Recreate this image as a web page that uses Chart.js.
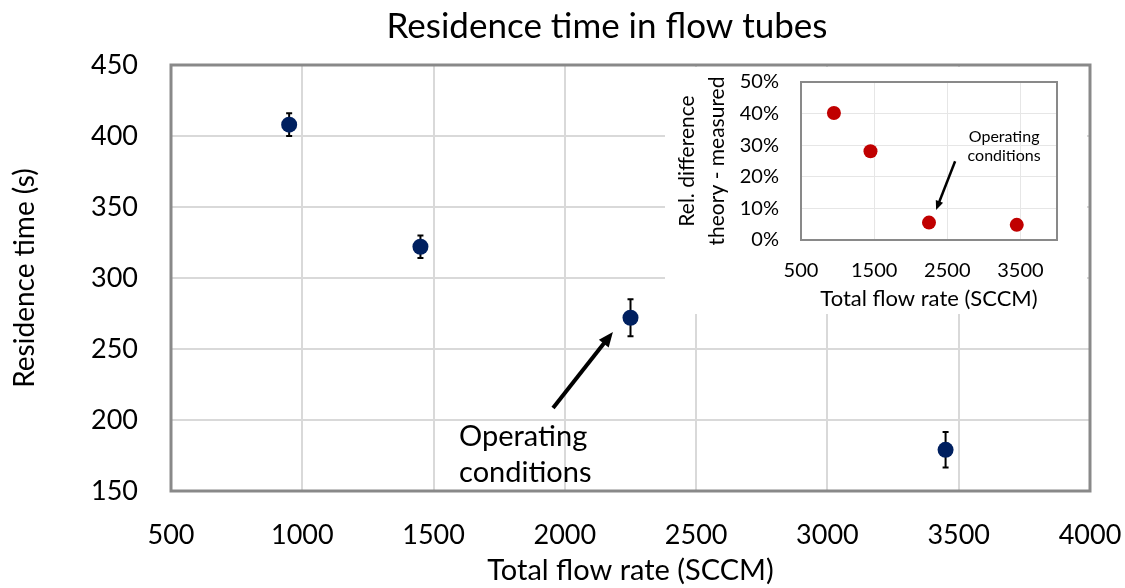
<!DOCTYPE html>
<html>
<head>
<meta charset="utf-8">
<script src="https://cdn.jsdelivr.net/npm/chart.js@4"></script>
<style>
  body { margin: 0; background: #fff; }
  #wrap { position: relative; width: 1125px; height: 588px; }
  #mainChart { position: absolute; left: 0; top: 0; }
  #insetChart { position: absolute; left: 665px; top: 67px; background: #fff; }
</style>
</head>
<body>
<div id="wrap">
  <canvas id="mainChart" width="1125" height="588"></canvas>
  <canvas id="insetChart" width="422" height="247"></canvas>
</div>
<script>
// measured points
const flowRates = [950, 1450, 2250, 3450];            // SCCM
const residenceTimes = [408, 322, 272, 179];          // s
const residenceErrors = [8, 8, 13, 12.5];             // s, +/- 
const relDifference = [40.2, 28.1, 5.5, 4.8];         // %, theory vs measured

// axis ticks
const mainXTicks = [500, 1000, 1500, 2000, 2500, 3000, 3500, 4000];
const mainYTicks = [150, 200, 250, 300, 350, 400, 450];
const insetXTicks = [500, 1500, 2500, 3500];
const insetYTicks = [0, 10, 20, 30, 40, 50];

const FONT = 'Lato';
Chart.defaults.font.family = FONT;
Chart.defaults.color = '#000';

// arrow + label for the operating point, in data units
const mainNote = { lines: ['Operating', 'conditions'], x: 1597, y: [188, 162.7], align: 'left', size: 29,
                   from: [1955, 208.5], to: [2183, 262] };
const insetNote = { lines: ['Operating', 'conditions'], x: 3277, y: [32.8, 26.5], align: 'center', size: 16,
                    from: [2607, 24.9], to: [2347, 9.5] };

function drawArrow(ctx, x1, y1, x2, y2, width, head) {
  const ang = Math.atan2(y2 - y1, x2 - x1);
  ctx.save();
  ctx.strokeStyle = '#000';
  ctx.fillStyle = '#000';
  ctx.lineWidth = width;
  ctx.beginPath();
  ctx.moveTo(x1, y1);
  ctx.lineTo(x2 - Math.cos(ang) * head * 0.8, y2 - Math.sin(ang) * head * 0.8);
  ctx.stroke();
  ctx.beginPath();
  ctx.moveTo(x2, y2);
  ctx.lineTo(x2 - head * Math.cos(ang - 0.4), y2 - head * Math.sin(ang - 0.4));
  ctx.lineTo(x2 - head * Math.cos(ang + 0.4), y2 - head * Math.sin(ang + 0.4));
  ctx.closePath();
  ctx.fill();
  ctx.restore();
}

function notePlugin(note, arrowWidth, head) {
  return {
    id: 'note',
    afterDatasetsDraw(chart) {
      const { ctx, scales: { x, y } } = chart;
      ctx.save();
      ctx.font = note.size + 'px ' + FONT;
      ctx.fillStyle = '#000';
      ctx.textAlign = note.align;
      ctx.textBaseline = 'middle';
      note.lines.forEach((t, i) => ctx.fillText(t, x.getPixelForValue(note.x), y.getPixelForValue(note.y[i])));
      ctx.restore();
      drawArrow(ctx, x.getPixelForValue(note.from[0]), y.getPixelForValue(note.from[1]),
                x.getPixelForValue(note.to[0]), y.getPixelForValue(note.to[1]), arrowWidth, head);
    }
  };
}

function framePlugin(color, width) {
  return {
    id: 'frame',
    afterDatasetsDraw(chart) {
      const { ctx, chartArea: a } = chart;
      ctx.save();
      ctx.strokeStyle = color;
      ctx.lineWidth = width;
      ctx.strokeRect(a.left, a.top, a.right - a.left, a.bottom - a.top);
      ctx.restore();
    }
  };
}

const errorBars = {
  id: 'errorBars',
  beforeDatasetsDraw(chart) {
    const { ctx, scales: { x, y } } = chart;
    ctx.save();
    ctx.strokeStyle = '#000';
    ctx.lineWidth = 2;
    flowRates.forEach((f, i) => {
      const px = x.getPixelForValue(f);
      const top = y.getPixelForValue(residenceTimes[i] + residenceErrors[i]);
      const bot = y.getPixelForValue(residenceTimes[i] - residenceErrors[i]);
      ctx.beginPath();
      ctx.moveTo(px, top); ctx.lineTo(px, bot);
      ctx.moveTo(px - 3, top); ctx.lineTo(px + 3, top);
      ctx.moveTo(px - 3, bot); ctx.lineTo(px + 3, bot);
      ctx.stroke();
    });
    ctx.restore();
  }
};

const chartTitle = {
  id: 'chartTitle',
  afterDraw(chart) {
    const ctx = chart.ctx;
    ctx.save();
    ctx.font = '35px ' + FONT;
    ctx.fillStyle = '#000';
    ctx.textAlign = 'center';
    ctx.textBaseline = 'middle';
    ctx.fillText('Residence time in flow tubes', 607, 27);
    ctx.restore();
  }
};

const setTicks = list => axis => { axis.ticks = list.map(v => ({ value: v })); };
const noEdgePad = size => s => {
  if (s.isHorizontal()) { s.height = size; s.paddingLeft = 0; s.paddingRight = 0; }
  else { s.width = size; s.paddingTop = 0; s.paddingBottom = 0; }
};

new Chart(document.getElementById('mainChart'), {
  type: 'scatter',
  data: {
    datasets: [{
      data: flowRates.map((f, i) => ({ x: f, y: residenceTimes[i] })),
      pointRadius: 8,
      pointBackgroundColor: '#002060',
      pointBorderWidth: 0
    }]
  },
  options: {
    responsive: false,
    animation: false,
    layout: { padding: { top: 65, right: 35, left: 0, bottom: 0 } },
    plugins: { legend: { display: false }, tooltip: { enabled: false } },
    scales: {
      x: {
        type: 'linear', min: 500, max: 4000,
        afterBuildTicks: setTicks(mainXTicks),
        afterFit: noEdgePad(97),
        grid: { color: '#d9d9d9', lineWidth: 2, drawTicks: false },
        border: { display: false },
        ticks: { font: { size: 27 }, padding: 28, maxRotation: 0, callback: v => String(v) },
        title: { display: true, text: 'Total flow rate (SCCM)', font: { size: 29 }, padding: { top: 0, bottom: 0 } }
      },
      y: {
        min: 150, max: 450,
        afterBuildTicks: setTicks(mainYTicks),
        afterFit: noEdgePad(171),
        grid: { color: '#d9d9d9', lineWidth: 2, drawTicks: false },
        border: { display: false },
        ticks: { font: { size: 27 }, padding: 33, callback: v => String(v) },
        title: { display: true, text: 'Residence time (s)', font: { size: 28 }, padding: { top: 8, bottom: 0 } }
      }
    }
  },
  plugins: [errorBars, framePlugin('#898989', 3), notePlugin(mainNote, 4, 16), chartTitle]
});

new Chart(document.getElementById('insetChart'), {
  type: 'scatter',
  data: {
    datasets: [{
      data: flowRates.map((f, i) => ({ x: f, y: relDifference[i] })),
      pointRadius: 7,
      pointBackgroundColor: '#c00000',
      pointBorderWidth: 0
    }]
  },
  options: {
    responsive: false,
    animation: false,
    layout: { padding: { top: 15, right: 30, left: 0, bottom: 0 } },
    plugins: { legend: { display: false }, tooltip: { enabled: false } },
    scales: {
      x: {
        type: 'linear', min: 500, max: 4000,
        afterBuildTicks: setTicks(insetXTicks),
        afterFit: noEdgePad(74),
        grid: { color: '#e6e6e6', lineWidth: 1, drawTicks: false },
        border: { display: false },
        ticks: { font: { size: 20 }, padding: 19, maxRotation: 0, callback: v => String(v) },
        title: { display: true, text: 'Total flow rate (SCCM)', font: { size: 22 }, padding: { top: 0, bottom: 2 } }
      },
      y: {
        min: 0, max: 50,
        afterBuildTicks: setTicks(insetYTicks),
        afterFit: noEdgePad(136),
        grid: { color: '#e6e6e6', lineWidth: 1, drawTicks: false },
        border: { display: false },
        ticks: { font: { size: 20 }, padding: 22, callback: v => v + '%' },
        title: { display: true, text: ['Rel. difference', 'theory - measured'], font: { size: 21, lineHeight: 1.43 }, padding: { top: 7, bottom: 0 } }
      }
    }
  },
  plugins: [framePlugin('#898989', 2), notePlugin(insetNote, 2.5, 10)]
});
</script>
</body>
</html>
